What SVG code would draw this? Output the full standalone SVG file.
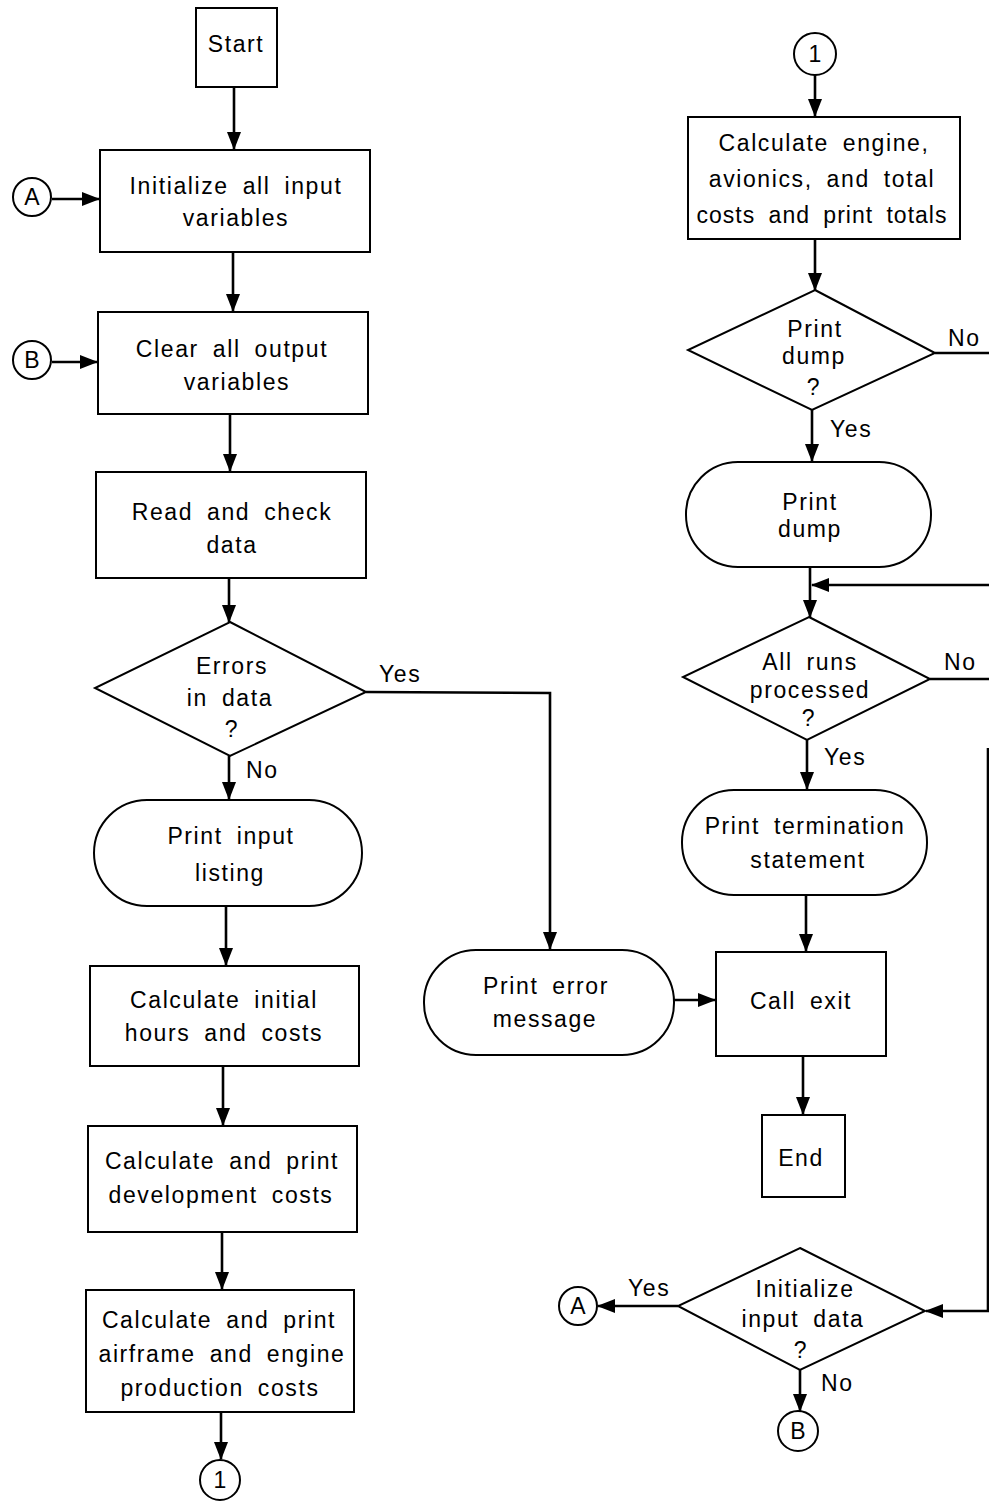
<svg xmlns="http://www.w3.org/2000/svg" width="989" height="1503" viewBox="0 0 989 1503">
<defs>
<marker id="ah" markerUnits="userSpaceOnUse" markerWidth="20" markerHeight="16" refX="17" refY="7" orient="auto">
<path d="M0,0 L18,7 L0,14 Z" fill="#000"/>
</marker>
<style>
.s{fill:#fff;stroke:#000;stroke-width:2}
.c{fill:none;stroke:#000;stroke-width:2.4}
.a{fill:none;stroke:#000;stroke-width:2.6;marker-end:url(#ah)}
text{font-family:"Liberation Sans",Arial,sans-serif;font-size:23px;fill:#000;text-anchor:middle;letter-spacing:1.6px;word-spacing:6px}
.l{text-anchor:start}
.n{letter-spacing:0}
</style>
</defs>
<rect width="989" height="1503" fill="#fff"/>
<g id="connectors">
<line class="a" x1="234" y1="87" x2="234" y2="149"/>
<line class="a" x1="52" y1="199" x2="99" y2="199"/>
<line class="a" x1="233" y1="252" x2="233" y2="311"/>
<line class="a" x1="52" y1="362" x2="97" y2="362"/>
<line class="a" x1="230" y1="414" x2="230" y2="471"/>
<line class="a" x1="229" y1="578" x2="229" y2="622"/>
<polyline class="a" points="366,692 550,693 550,949"/>
<line class="a" x1="229" y1="756" x2="229" y2="799"/>
<line class="a" x1="226" y1="906" x2="226" y2="965"/>
<line class="a" x1="223" y1="1066" x2="223" y2="1125"/>
<line class="a" x1="222" y1="1232" x2="222" y2="1289"/>
<line class="a" x1="221" y1="1412" x2="221" y2="1459"/>
<line class="a" x1="815" y1="75" x2="815" y2="116"/>
<line class="a" x1="815" y1="239" x2="815" y2="290"/>
<line class="c" x1="935" y1="353" x2="989" y2="353"/>
<line class="a" x1="812" y1="410" x2="812" y2="461"/>
<line class="a" x1="810" y1="567" x2="810" y2="617"/>
<line class="a" x1="989" y1="585" x2="812" y2="585"/>
<line class="c" x1="930" y1="679" x2="989" y2="679"/>
<line class="a" x1="807" y1="740" x2="807" y2="789"/>
<line class="a" x1="806" y1="895" x2="806" y2="951"/>
<line class="a" x1="674" y1="1000" x2="715" y2="1000"/>
<line class="a" x1="803" y1="1056" x2="803" y2="1114"/>
<line class="a" x1="678" y1="1306" x2="598" y2="1306"/>
<line class="a" x1="800" y1="1370" x2="800" y2="1411"/>
<polyline class="a" points="988,748 988,1311 926,1311"/>
</g>
<g id="start"><rect class="s" x="196" y="8" width="81" height="79"/><text x="236" y="52">Start</text></g>
<g id="connA1"><circle class="s" cx="32" cy="197" r="19"/><text class="n" x="32" y="205">A</text></g>
<g id="init"><rect class="s" x="100" y="150" width="270" height="102"/><text x="236" y="194">Initialize all input</text><text x="236" y="226">variables</text></g>
<g id="connB1"><circle class="s" cx="32" cy="360" r="19"/><text class="n" x="32" y="368">B</text></g>
<g id="clear"><rect class="s" x="98" y="312" width="270" height="102"/><text x="232" y="357">Clear all output</text><text x="237" y="390">variables</text></g>
<g id="read"><rect class="s" x="96" y="472" width="270" height="106"/><text x="232" y="520">Read and check</text><text x="232" y="553">data</text></g>
<g id="errors"><polygon class="s" points="230,622 366,692 230,756 95,688"/><text x="232" y="674">Errors</text><text x="230" y="706">in data</text><text x="232" y="737">?</text></g>
<text class="l" x="379" y="682">Yes</text>
<text class="l" x="246" y="778">No</text>
<g id="printInput"><rect class="s" x="94" y="800" width="268" height="106" rx="53"/><text x="231" y="844">Print input</text><text x="230" y="881">listing</text></g>
<g id="calcInitial"><rect class="s" x="90" y="966" width="269" height="100"/><text x="224" y="1008">Calculate initial</text><text x="224" y="1041">hours and costs</text></g>
<g id="calcDev"><rect class="s" x="88" y="1126" width="269" height="106"/><text x="222" y="1169">Calculate and print</text><text x="221" y="1203">development costs</text></g>
<g id="calcAirframe"><rect class="s" x="86" y="1290" width="268" height="122"/><text x="219" y="1328">Calculate and print</text><text x="222" y="1362">airframe and engine</text><text x="220" y="1396">production costs</text></g>
<g id="conn1a"><circle class="s" cx="220" cy="1480" r="20"/><text class="n" x="220" y="1488">1</text></g>
<g id="printError"><rect class="s" x="424" y="950" width="250" height="105" rx="52"/><text x="546" y="994">Print error</text><text x="545" y="1027">message</text></g>
<g id="conn1b"><circle class="s" cx="815" cy="54" r="21"/><text class="n" x="815" y="62">1</text></g>
<g id="calcEngine"><rect class="s" x="688" y="117" width="272" height="122"/><text x="824" y="151">Calculate engine,</text><text x="822" y="187">avionics, and total</text><text x="822" y="223" style="letter-spacing:1px">costs and print totals</text></g>
<g id="printDumpQ"><polygon class="s" points="815,290 935,353 812,410 688,350"/><text x="815" y="337">Print</text><text x="814" y="364">dump</text><text x="814" y="395">?</text></g>
<text class="l" x="948" y="346">No</text>
<text class="l" x="830" y="437">Yes</text>
<g id="printDump"><rect class="s" x="686" y="462" width="245" height="105" rx="52"/><text x="810" y="510">Print</text><text x="810" y="537">dump</text></g>
<g id="allRuns"><polygon class="s" points="809,617 930,679 807,740 683,677"/><text x="810" y="670">All runs</text><text x="810" y="698">processed</text><text x="809" y="726">?</text></g>
<text class="l" x="944" y="670">No</text>
<text class="l" x="824" y="765">Yes</text>
<g id="printTerm"><rect class="s" x="682" y="790" width="245" height="105" rx="52"/><text x="805" y="834">Print termination</text><text x="808" y="868">statement</text></g>
<g id="callExit"><rect class="s" x="716" y="952" width="170" height="104"/><text x="801" y="1009">Call exit</text></g>
<g id="end"><rect class="s" x="762" y="1115" width="83" height="82"/><text x="801" y="1166">End</text></g>
<g id="initQ"><polygon class="s" points="800,1248 925,1311 800,1370 678,1306"/><text x="805" y="1297">Initialize</text><text x="803" y="1327">input data</text><text x="801" y="1358">?</text></g>
<text class="l" x="628" y="1296">Yes</text>
<text class="l" x="821" y="1391">No</text>
<g id="connA2"><circle class="s" cx="578" cy="1306" r="19"/><text class="n" x="578" y="1314">A</text></g>
<g id="connB2"><circle class="s" cx="798" cy="1431" r="20"/><text class="n" x="798" y="1439">B</text></g>
</svg>
